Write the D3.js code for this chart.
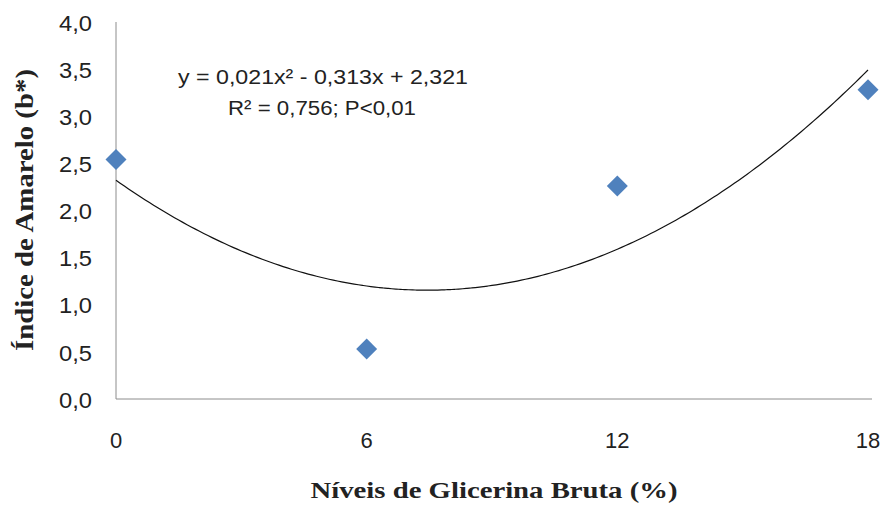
<!DOCTYPE html>
<html>
<head>
<meta charset="utf-8">
<script src="https://cdn.jsdelivr.net/npm/d3@7"></script>
<style>
  body { margin: 0; background: #fff; }
  text { font-family: "Liberation Sans", Arial, sans-serif; }
</style>
</head>
<body>
<div class="canvas"></div>
<script>
// observed points
const niveis = [0, 6, 12, 18];
const amarelo = [2.54, 0.53, 2.26, 3.28];
const yTicks = [0, 0.5, 1, 1.5, 2, 2.5, 3, 3.5, 4];
const xTicks = [0, 6, 12, 18];
// fitted quadratic y = a x^2 + b x + c
const coef = {a: 0.021, b: -0.313, c: 2.321};
const eqLines = ["y = 0,021x² - 0,313x + 2,321", "R² = 0,756; P<0,01"];

const W = 885, H = 506;
const svg = d3.select(".canvas")
    .append("svg")
    .attr("width", W)
    .attr("height", H);

const x = d3.scaleLinear().domain([0, 18]).range([116, 868]);
const y = d3.scaleLinear().domain([0, 4]).range([399, 22]);
const fmt = d => d3.format(".1f")(d).replace(".", ",");

// axis lines
svg.append("line")
    .attr("x1", x(0)).attr("x2", x(0))
    .attr("y1", y(0)).attr("y2", y(4))
    .attr("stroke", "#8c8c8c").attr("stroke-width", 1);
svg.append("line")
    .attr("x1", x(0)).attr("x2", x(18) + 4)
    .attr("y1", y(0)).attr("y2", y(0))
    .attr("stroke", "#8c8c8c").attr("stroke-width", 1);

// y tick labels
svg.selectAll("text.ytick")
    .data(yTicks)
    .enter()
    .append("text")
    .attr("class", "ytick")
    .attr("x", 92)
    .attr("y", d => y(d) + 1)
    .attr("dy", "0.35em")
    .attr("text-anchor", "end")
    .attr("textLength", 33)
    .attr("lengthAdjust", "spacingAndGlyphs")
    .style("font-size", "22px")
    .style("fill", "#222")
    .text(fmt);

// x tick labels
svg.selectAll("text.xtick")
    .data(xTicks)
    .enter()
    .append("text")
    .attr("class", "xtick")
    .attr("x", d => x(d))
    .attr("y", 440)
    .attr("dy", "0.35em")
    .attr("text-anchor", "middle")
    .style("font-size", "22px")
    .style("fill", "#222")
    .text(d => d);

// axis titles
svg.append("text")
    .attr("x", 494)
    .attr("y", 498)
    .attr("text-anchor", "middle")
    .attr("textLength", 367)
    .attr("lengthAdjust", "spacingAndGlyphs")
    .style("font-family", "'Liberation Serif', 'Times New Roman', serif")
    .style("font-weight", "bold")
    .style("font-size", "24px")
    .style("fill", "#222")
    .text("Níveis de Glicerina Bruta (%)");

svg.append("text")
    .attr("transform", "translate(33, 210) rotate(-90)")
    .attr("text-anchor", "middle")
    .attr("textLength", 282)
    .attr("lengthAdjust", "spacingAndGlyphs")
    .style("font-family", "'Liberation Serif', 'Times New Roman', serif")
    .style("font-weight", "bold")
    .style("font-size", "25px")
    .style("fill", "#222")
    .text("Índice de Amarelo (b*)");

// trend curve
const curveData = d3.range(0, 18.01, 0.1).map(v => [v, coef.a * v * v + coef.b * v + coef.c]);
svg.append("path")
    .datum(curveData)
    .attr("fill", "none")
    .attr("stroke", "#111")
    .attr("stroke-width", 1.2)
    .attr("d", d3.line().x(d => x(d[0])).y(d => y(d[1])).curve(d3.curveMonotoneX));

// diamonds
const diamond = d3.symbol().type(d3.symbolSquare).size(220);
svg.selectAll("path.pt")
    .data(niveis.map((v, i) => ({x: v, y: amarelo[i]})))
    .enter()
    .append("path")
    .attr("class", "pt")
    .attr("d", diamond)
    .attr("transform", d => `translate(${x(d.x)},${y(d.y)}) rotate(45)`)
    .attr("fill", "#4f81bd");

// equation
svg.append("text")
    .attr("x", 323).attr("y", 84)
    .attr("text-anchor", "middle")
    .attr("textLength", 290)
    .attr("lengthAdjust", "spacingAndGlyphs")
    .style("font-size", "20px")
    .style("fill", "#222")
    .text(eqLines[0]);
svg.append("text")
    .attr("x", 322).attr("y", 115)
    .attr("text-anchor", "middle")
    .attr("textLength", 188)
    .attr("lengthAdjust", "spacingAndGlyphs")
    .style("font-size", "20px")
    .style("fill", "#222")
    .text(eqLines[1]);
</script>
</body>
</html>
